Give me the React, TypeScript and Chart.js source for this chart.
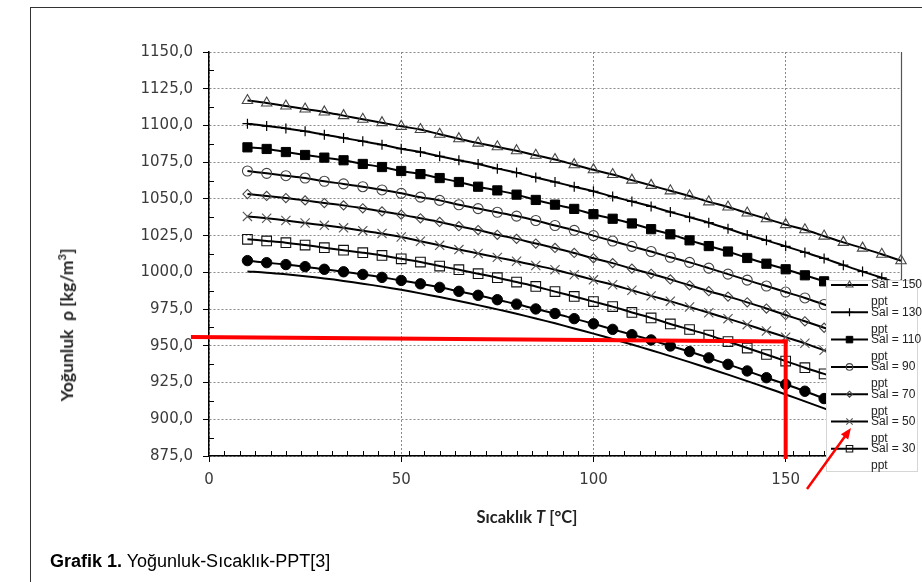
import React, { useEffect, useRef } from 'react';
import { Chart, registerables } from 'chart.js';
import { drawPoint } from 'chart.js/helpers';

Chart.register(...registerables);

// Temperature T [°C]
const temperatures = [10, 15, 20, 25, 30, 35, 40, 45, 50, 55, 60, 65, 70, 75, 80, 85, 90, 95, 100, 105, 110, 115, 120, 125, 130, 135, 140, 145, 150, 155, 160, 165, 170, 175, 180];

// Density [kg/m3] per salinity
const sal150 = [1117.0, 1115.3, 1113.2, 1111.2, 1109.2, 1106.7, 1104.2, 1101.9, 1099.4, 1097.2, 1094.0, 1091.0, 1088.0, 1085.5, 1082.8, 1079.7, 1076.8, 1073.3, 1069.8, 1066.6, 1062.8, 1059.2, 1055.5, 1052.0, 1048.0, 1044.5, 1040.4, 1036.5, 1032.5, 1029.0, 1024.7, 1020.4, 1016.5, 1012.3, 1007.9];
const sal130 = [1101.2, 1099.6, 1098.0, 1096.0, 1093.7, 1091.5, 1089.2, 1086.9, 1084.2, 1081.9, 1079.0, 1076.3, 1073.8, 1070.6, 1067.9, 1064.6, 1061.5, 1058.3, 1055.2, 1051.6, 1048.3, 1044.9, 1041.1, 1037.5, 1033.8, 1029.7, 1025.5, 1021.8, 1017.7, 1013.6, 1009.5, 1004.9, 1000.6, 996.3, 991.8];
const sal110 = [1085.1, 1084.0, 1081.9, 1079.9, 1078.1, 1076.3, 1073.8, 1071.7, 1069.0, 1066.9, 1064.2, 1061.5, 1058.3, 1055.8, 1052.9, 1049.3, 1046.1, 1043.2, 1039.6, 1036.5, 1033.3, 1029.4, 1025.9, 1021.8, 1017.9, 1014.2, 1009.8, 1005.9, 1002.1, 998.0, 993.9, 989.6, 985.2, 980.7, 976.1];
const sal90 = [1069.0, 1067.4, 1065.8, 1064.2, 1062.0, 1060.2, 1058.3, 1056.1, 1053.8, 1051.2, 1049.0, 1046.0, 1043.4, 1040.9, 1038.3, 1035.3, 1031.9, 1028.6, 1025.0, 1021.3, 1017.7, 1014.2, 1010.3, 1006.8, 1002.9, 998.8, 994.7, 990.7, 986.6, 982.6, 978.1, 973.6, 969.1, 964.5, 959.8];
const sal70 = [1053.3, 1052.0, 1050.6, 1049.0, 1047.2, 1045.6, 1043.6, 1041.5, 1039.3, 1036.8, 1034.3, 1031.4, 1028.8, 1025.6, 1022.8, 1019.6, 1016.6, 1013.2, 1009.6, 1006.3, 1002.5, 999.0, 995.2, 991.2, 987.2, 983.5, 979.6, 975.4, 971.0, 966.7, 962.3, 957.7, 953.1, 948.4, 943.6];
const sal50 = [1038.1, 1036.8, 1035.3, 1033.6, 1032.0, 1030.3, 1028.4, 1026.4, 1024.1, 1021.2, 1018.4, 1015.5, 1012.9, 1010.2, 1007.6, 1004.7, 1001.8, 998.4, 994.9, 991.6, 987.8, 984.0, 980.4, 976.4, 972.5, 968.5, 964.4, 960.1, 955.9, 951.7, 946.9, 942.2, 937.6, 932.9, 928.1];
const sal30 = [1022.5, 1021.4, 1020.2, 1018.6, 1016.8, 1015.1, 1013.4, 1011.5, 1009.2, 1007.0, 1004.3, 1001.8, 999.1, 996.4, 993.4, 990.4, 986.9, 983.6, 980.1, 976.7, 972.7, 969.0, 964.9, 961.1, 957.3, 952.9, 948.5, 944.1, 939.6, 935.1, 930.9, 926.5, 921.9, 917.2, 912.4];
const sal10 = [1008.0, 1006.6, 1005.3, 1003.9, 1002.1, 1000.4, 998.6, 996.6, 994.5, 992.2, 989.8, 987.1, 984.4, 981.4, 978.4, 975.1, 972.0, 968.5, 965.0, 961.2, 957.6, 954.0, 949.9, 946.1, 941.8, 937.4, 932.9, 928.3, 923.8, 919.1, 914.1, 909.1, 904.2, 899.2, 894.1];
const sal0 = [1000.6, 999.8, 998.7, 997.4, 995.9, 994.2, 992.3, 990.3, 988.1, 985.7, 983.2, 980.5, 977.7, 974.8, 971.8, 968.6, 965.3, 961.8, 958.3, 954.7, 950.9, 947.0, 943.0, 938.9, 934.7, 930.4, 926.0, 921.5, 916.9, 912.2, 907.4, 902.5, 897.5, 892.4, 887.2];

const seriesLabels = ['Sal = 150', 'Sal = 130', 'Sal = 110', 'Sal = 90', 'Sal = 70', 'Sal = 50', 'Sal = 30', 'Sal = 10', 'Sal = 0'];
const unitLabel = 'ppt';
const legendCount = 7;

const xTickValues = [0, 50, 100, 150];
const xMin = 0;
const xMax = 180;
const yMin = 875;
const yMax = 1150;
const yStep = 25;

// red guide annotation
const guideStartT = -4.7;
const guideStartRho = 956.0;
const guideT = 150;
const guideRho = 953.0;

type MarkerStyle = { style: string | false; radius: number; legendRadius: number; fill: string; stroke: string; width: number };
const markerStyles: MarkerStyle[] = [
  { style: 'triangle', radius: 6, legendRadius: 4, fill: 'rgba(0,0,0,0)', stroke: '#444', width: 1.1 },
  { style: 'cross', radius: 5, legendRadius: 4, fill: 'rgba(0,0,0,0)', stroke: '#000', width: 1.2 },
  { style: 'rect', radius: 6.5, legendRadius: 4.6, fill: '#000', stroke: '#000', width: 1 },
  { style: 'circle', radius: 5, legendRadius: 3.3, fill: 'rgba(0,0,0,0)', stroke: '#444', width: 1.1 },
  { style: 'rectRot', radius: 4.6, legendRadius: 3, fill: 'rgba(0,0,0,0)', stroke: '#444', width: 1.1 },
  { style: 'crossRot', radius: 6.5, legendRadius: 4.5, fill: 'rgba(0,0,0,0)', stroke: '#555', width: 1.1 },
  { style: 'rect', radius: 6.8, legendRadius: 4.6, fill: 'rgba(0,0,0,0)', stroke: '#111', width: 1.1 },
  { style: 'circle', radius: 5.2, legendRadius: 3.6, fill: '#000', stroke: '#000', width: 1 },
  { style: false, radius: 0, legendRadius: 0, fill: '#000', stroke: '#000', width: 1 },
];

const allSeries = [sal150, sal130, sal110, sal90, sal70, sal50, sal30, sal10, sal0];

const decorPlugin = {
  id: 'decor',
  afterDraw(chart: any) {
    const { ctx, chartArea: ca, scales } = chart;
    const x = scales.x;
    const y = scales.y;
    ctx.save();
    // right plot edge
    ctx.strokeStyle = '#555';
    ctx.lineWidth = 1.2;
    ctx.beginPath();
    ctx.moveTo(Math.round(ca.right) + 0.5, ca.top);
    ctx.lineTo(Math.round(ca.right) + 0.5, ca.bottom);
    ctx.stroke();
    // minor ticks (inward)
    ctx.strokeStyle = '#000';
    ctx.lineWidth = 1;
    ctx.beginPath();
    for (let v = xMin + 4; v <= xMax; v += 4) {
      if (v % 50 === 0) continue;
      const px = Math.round(x.getPixelForValue(v)) + 0.5;
      ctx.moveTo(px, ca.bottom);
      ctx.lineTo(px, ca.bottom - 5);
    }
    for (let v = yMin + yStep / 2; v < yMax; v += yStep) {
      const py = Math.round(y.getPixelForValue(v)) + 0.5;
      ctx.moveTo(ca.left, py);
      ctx.lineTo(ca.left + 5, py);
    }
    ctx.stroke();

    // red guide lines
    ctx.strokeStyle = '#ff0000';
    ctx.lineWidth = 4;
    ctx.lineCap = 'butt';
    const gx = x.getPixelForValue(guideT);
    const gy = y.getPixelForValue(guideRho);
    ctx.beginPath();
    ctx.moveTo(x.getPixelForValue(guideStartT), y.getPixelForValue(guideStartRho));
    ctx.lineTo(gx + 2, gy);
    ctx.stroke();
    ctx.beginPath();
    ctx.moveTo(gx, gy - 2);
    ctx.lineTo(gx, ca.bottom + 3);
    ctx.stroke();

    // legend box
    const lx = 826;
    const ly = 280;
    const lw = 91;
    const lh = 191;
    ctx.fillStyle = '#fff';
    ctx.fillRect(lx, ly, lw, lh);
    ctx.strokeStyle = '#d6d6d6';
    ctx.lineWidth = 1;
    ctx.strokeRect(lx + 0.5, ly + 0.5, lw, lh);
    ctx.font = '12px "Liberation Sans", Arial, sans-serif';
    ctx.textBaseline = 'middle';
    ctx.textAlign = 'left';
    for (let i = 0; i < legendCount; i++) {
      const ry = ly + 5 + i * 27.3;
      ctx.strokeStyle = '#000';
      ctx.lineWidth = 2;
      ctx.beginPath();
      ctx.moveTo(lx + 5, ry);
      ctx.lineTo(lx + 42, ry);
      ctx.stroke();
      const m = markerStyles[i];
      if (m.style) {
        ctx.fillStyle = m.fill;
        ctx.strokeStyle = m.stroke;
        ctx.lineWidth = m.width;
        drawPoint(ctx, { pointStyle: m.style, radius: m.legendRadius, rotation: 0, borderWidth: m.width } as any, lx + 23.5, ry);
      }
      ctx.fillStyle = '#222';
      ctx.fillText(seriesLabels[i], lx + 45, ry);
      ctx.fillText(unitLabel, lx + 45, ry + 17);
    }

    // red arrow
    const ax0 = 807, ay0 = 489, ax1 = 851, ay1 = 428;
    const ang = Math.atan2(ay1 - ay0, ax1 - ax0);
    ctx.strokeStyle = '#ff0000';
    ctx.fillStyle = '#ff0000';
    ctx.lineWidth = 2.5;
    ctx.beginPath();
    ctx.moveTo(ax0, ay0);
    ctx.lineTo(ax1 - 8 * Math.cos(ang), ay1 - 8 * Math.sin(ang));
    ctx.stroke();
    ctx.beginPath();
    ctx.moveTo(ax1, ay1);
    ctx.lineTo(ax1 - 11 * Math.cos(ang) + 4.5 * Math.sin(ang), ay1 - 11 * Math.sin(ang) - 4.5 * Math.cos(ang));
    ctx.lineTo(ax1 - 11 * Math.cos(ang) - 4.5 * Math.sin(ang), ay1 - 11 * Math.sin(ang) + 4.5 * Math.cos(ang));
    ctx.closePath();
    ctx.fill();
    ctx.restore();
  },
};

export default function App() {
  const canvasRef = useRef<HTMLCanvasElement | null>(null);

  useEffect(() => {
    const canvas = canvasRef.current;
    if (!canvas) return;
    const datasets = allSeries.map((vals, i) => {
      const m = markerStyles[i];
      return {
        label: seriesLabels[i],
        data: temperatures.map((t, j) => ({ x: t, y: vals[j] })),
        borderColor: '#000',
        borderWidth: 2,
        tension: 0.35,
        clip: false as any,
        pointStyle: m.style as any,
        pointRadius: m.radius,
        pointBackgroundColor: m.fill,
        pointBorderColor: m.stroke,
        pointBorderWidth: m.width,
      };
    });
    const tickFont = { family: '"DejaVu Sans", sans-serif', size: 15 };
    const chart = new Chart(canvas, {
      type: 'line',
      data: { datasets },
      options: {
        animation: false,
        responsive: false,
        layout: { padding: { left: 0, top: 52, right: 21, bottom: 0 } },
        plugins: { legend: { display: false }, tooltip: { enabled: false } },
        scales: {
          x: {
            type: 'linear',
            min: xMin,
            max: xMax,
            afterBuildTicks: (s: any) => {
              s.ticks = xTickValues.map((v) => ({ value: v }));
            },
            afterFit: (s: any) => {
              s.height = 126;
            },
            grid: { color: '#8a8a8a', lineWidth: 1, tickLength: 6, tickColor: '#000', tickWidth: 1 },
            border: { display: true, color: '#000', width: 1.5, dash: [2, 2] },
            ticks: { font: tickFont, color: '#3a3a3a', padding: 9, maxRotation: 0, callback: (v: any) => String(v) },
          },
          y: {
            type: 'linear',
            min: yMin,
            max: yMax,
            afterFit: (s: any) => {
              s.width = 209;
            },
            grid: { color: '#8a8a8a', lineWidth: 1, tickLength: 6, tickColor: '#000', tickWidth: 1 },
            border: { display: true, color: '#000', width: 1.5, dash: [2, 2] },
            ticks: {
              stepSize: yStep,
              font: tickFont,
              color: '#3a3a3a',
              padding: 10,
              callback: (v: any) => Number(v).toFixed(1).replace('.', ','),
            },
          },
        },
      },
      plugins: [decorPlugin],
    } as any);
    return () => chart.destroy();
  }, []);

  return (
    <div style={{ position: 'fixed', left: 0, top: 0, width: 922, height: 582, background: '#fff', overflow: 'hidden' }}>
      <div style={{ position: 'absolute', left: 30, top: 7, width: 960, height: 640, borderLeft: '1.5px solid #333', borderTop: '1.5px solid #333' }} />
      <canvas ref={canvasRef} width={922} height={582} style={{ position: 'absolute', left: 0, top: 0, width: 922, height: 582 }} />
      <div
        style={{
          position: 'absolute',
          left: 66,
          top: 325,
          transform: 'translate(-50%, -50%) rotate(-90deg)',
          whiteSpace: 'nowrap',
          fontFamily: 'Lato, sans-serif',
          fontWeight: 700,
          fontSize: 17.5,
          color: '#222',
        }}
      >
        Yoğunluk&nbsp; ρ [kg/m<sup style={{ fontSize: 11 }}>3</sup>]
      </div>
      <div
        style={{
          position: 'absolute',
          left: 527,
          top: 517,
          transform: 'translate(-50%, -50%)',
          whiteSpace: 'nowrap',
          fontFamily: 'Lato, sans-serif',
          fontWeight: 700,
          fontSize: 16.5,
          color: '#222',
        }}
      >
        Sıcaklık <i>T</i> [°C]
      </div>
      <div
        style={{
          position: 'absolute',
          left: 50,
          top: 551,
          whiteSpace: 'nowrap',
          fontFamily: '"Liberation Sans", Arial, sans-serif',
          fontSize: 18,
          lineHeight: '20px',
          color: '#000',
        }}
      >
        <b>Grafik 1.</b> Yoğunluk-Sıcaklık-PPT[3]
      </div>
    </div>
  );
}
